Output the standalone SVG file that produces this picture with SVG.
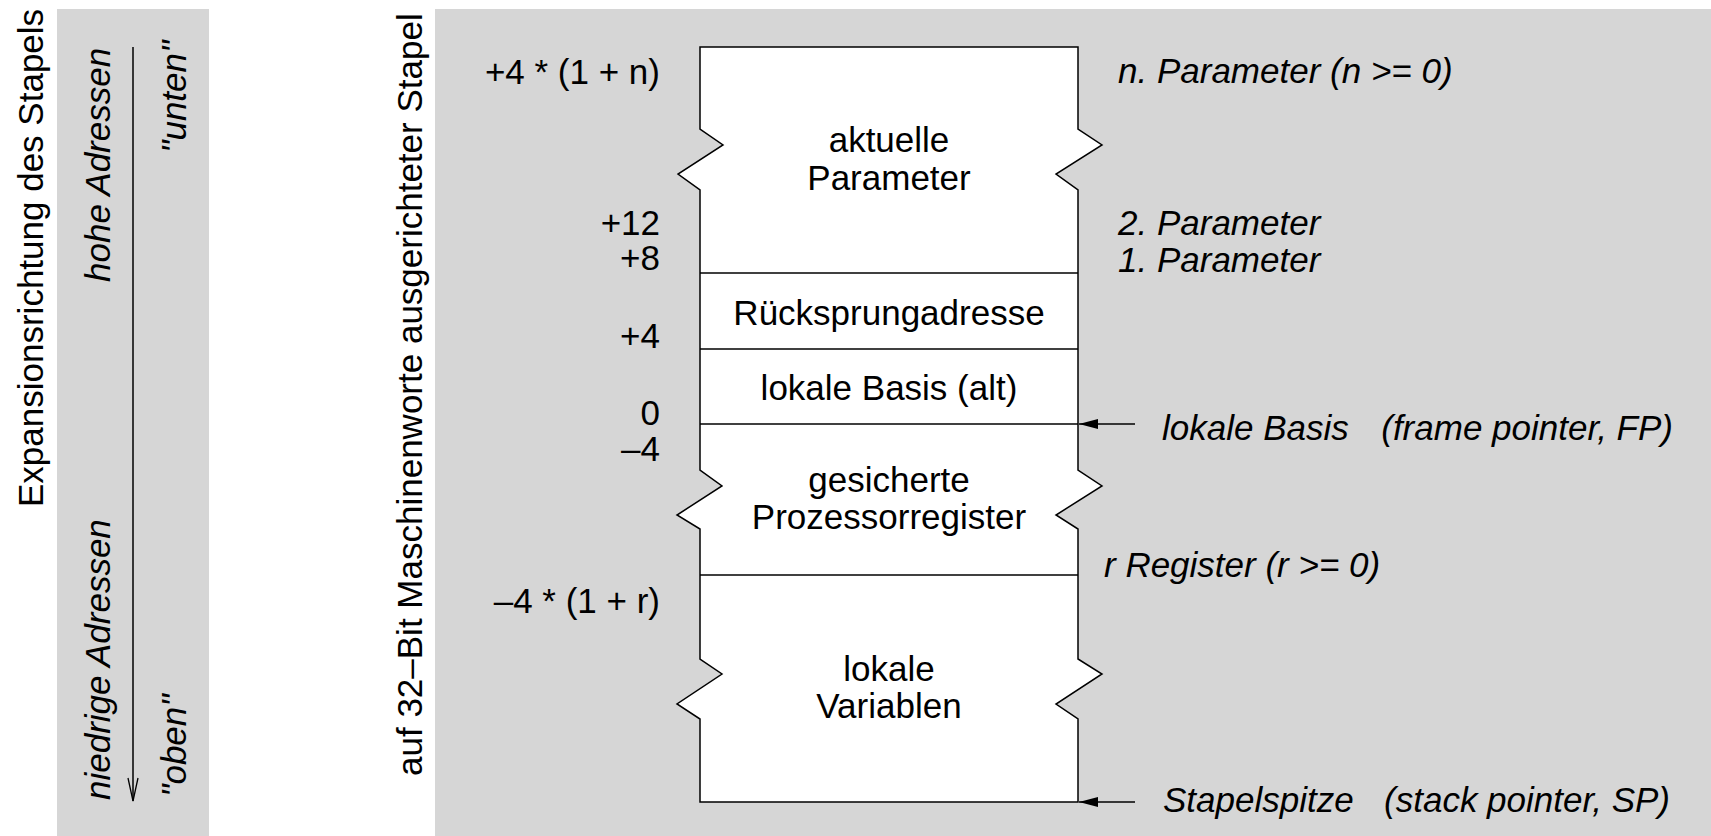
<svg xmlns="http://www.w3.org/2000/svg" width="1711" height="836" viewBox="0 0 1711 836">
<style>
  text { font-family: "Liberation Sans", Arial, sans-serif; font-size: 35px; fill: #000; }
  .it { font-style: italic; }
  .c { text-anchor: middle; }
  .e { text-anchor: end; }
  .ln { stroke: #000; stroke-width: 1.5; fill: none; }
</style>
<defs>
  <marker id="fill" markerWidth="20" markerHeight="10" refX="19" refY="5" orient="auto" markerUnits="userSpaceOnUse">
    <path d="M0,0 L19,5 L0,10 Z" fill="#000"/>
  </marker>
  <marker id="open" markerWidth="12" markerHeight="26" refX="6" refY="24" orient="0" markerUnits="userSpaceOnUse">
    <path d="M1,1 L6,24 L11,1" fill="none" stroke="#000" stroke-width="1.3"/>
  </marker>
</defs>
<rect x="57" y="9" width="152" height="827" fill="#d6d6d6"/>
<rect x="435" y="9" width="1276" height="827" fill="#d6d6d6"/>

<g id="legend-left">
  <text transform="translate(43,507) rotate(-90)">Expansionsrichtung des Stapels</text>
  <text class="it" transform="translate(110,282) rotate(-90)">hohe Adressen</text>
  <text class="it" transform="translate(110,800) rotate(-90)">niedrige Adressen</text>
  <text class="it" transform="translate(186,153) rotate(-90)">"unten"</text>
  <text class="it" transform="translate(186,797) rotate(-90)">"oben"</text>
</g>
<g id="legend-stack">
  <text transform="translate(422,776) rotate(-90)">auf 32–Bit Maschinenworte ausgerichteter Stapel</text>
</g>

<g id="stack-frame">
  <path d="M700,47 H1078 V129 L1102,145 L1056,174 L1078,190 V470 L1102,486 L1056,515 L1078,529 V659 L1102,674 L1056,704 L1078,719 V802 H700 V719 L677,704 L722,674 L700,659 V529 L677,515 L722,486 L700,470 V190 L678,174 L723,145 L700,129 Z" fill="#fff" stroke="#000" stroke-width="1.5"/>
  <line class="ln" x1="700" y1="273" x2="1078" y2="273"/>
  <line class="ln" x1="700" y1="349" x2="1078" y2="349"/>
  <line class="ln" x1="700" y1="424" x2="1078" y2="424"/>
  <line class="ln" x1="700" y1="575" x2="1078" y2="575"/>
</g>
<g id="cell-params"><text class="c" x="889" y="152">aktuelle</text><text class="c" x="889" y="190">Parameter</text></g>
<g id="cell-return"><text class="c" x="889" y="325">Rücksprungadresse</text></g>
<g id="cell-oldbase"><text class="c" x="889" y="400">lokale Basis (alt)</text></g>
<g id="cell-regs"><text class="c" x="889" y="492">gesicherte</text><text class="c" x="889" y="529">Prozessorregister</text></g>
<g id="cell-locals"><text class="c" x="889" y="681">lokale</text><text class="c" x="889" y="718">Variablen</text></g>

<g id="offsets">
  <text class="e" x="660" y="84">+4 * (1 + n)</text>
  <text class="e" x="660" y="235">+12</text>
  <text class="e" x="660" y="270">+8</text>
  <text class="e" x="660" y="348">+4</text>
  <text class="e" x="660" y="425">0</text>
  <text class="e" x="660" y="461">–4</text>
  <text class="e" x="660" y="613">–4 * (1 + r)</text>
</g>
<g id="annotations">
  <text class="it" x="1118" y="83">n. Parameter (n &gt;= 0)</text>
  <text class="it" x="1118" y="235">2. Parameter</text>
  <text class="it" x="1118" y="272">1. Parameter</text>
  <text class="it" x="1162" y="440">lokale Basis</text>
  <text class="it e" x="1673" y="440">(frame pointer, FP)</text>
  <text class="it" x="1104" y="577">r Register (r &gt;= 0)</text>
  <text class="it" x="1163" y="812">Stapelspitze</text>
  <text class="it e" x="1670" y="812">(stack pointer, SP)</text>
</g>

<g id="connectors">
  <line class="ln" x1="133" y1="47" x2="133" y2="801" marker-end="url(#open)"/>
  <line class="ln" x1="1135" y1="424" x2="1079" y2="424" marker-end="url(#fill)"/>
  <line class="ln" x1="1135" y1="802" x2="1079" y2="802" marker-end="url(#fill)"/>
</g>
</svg>
